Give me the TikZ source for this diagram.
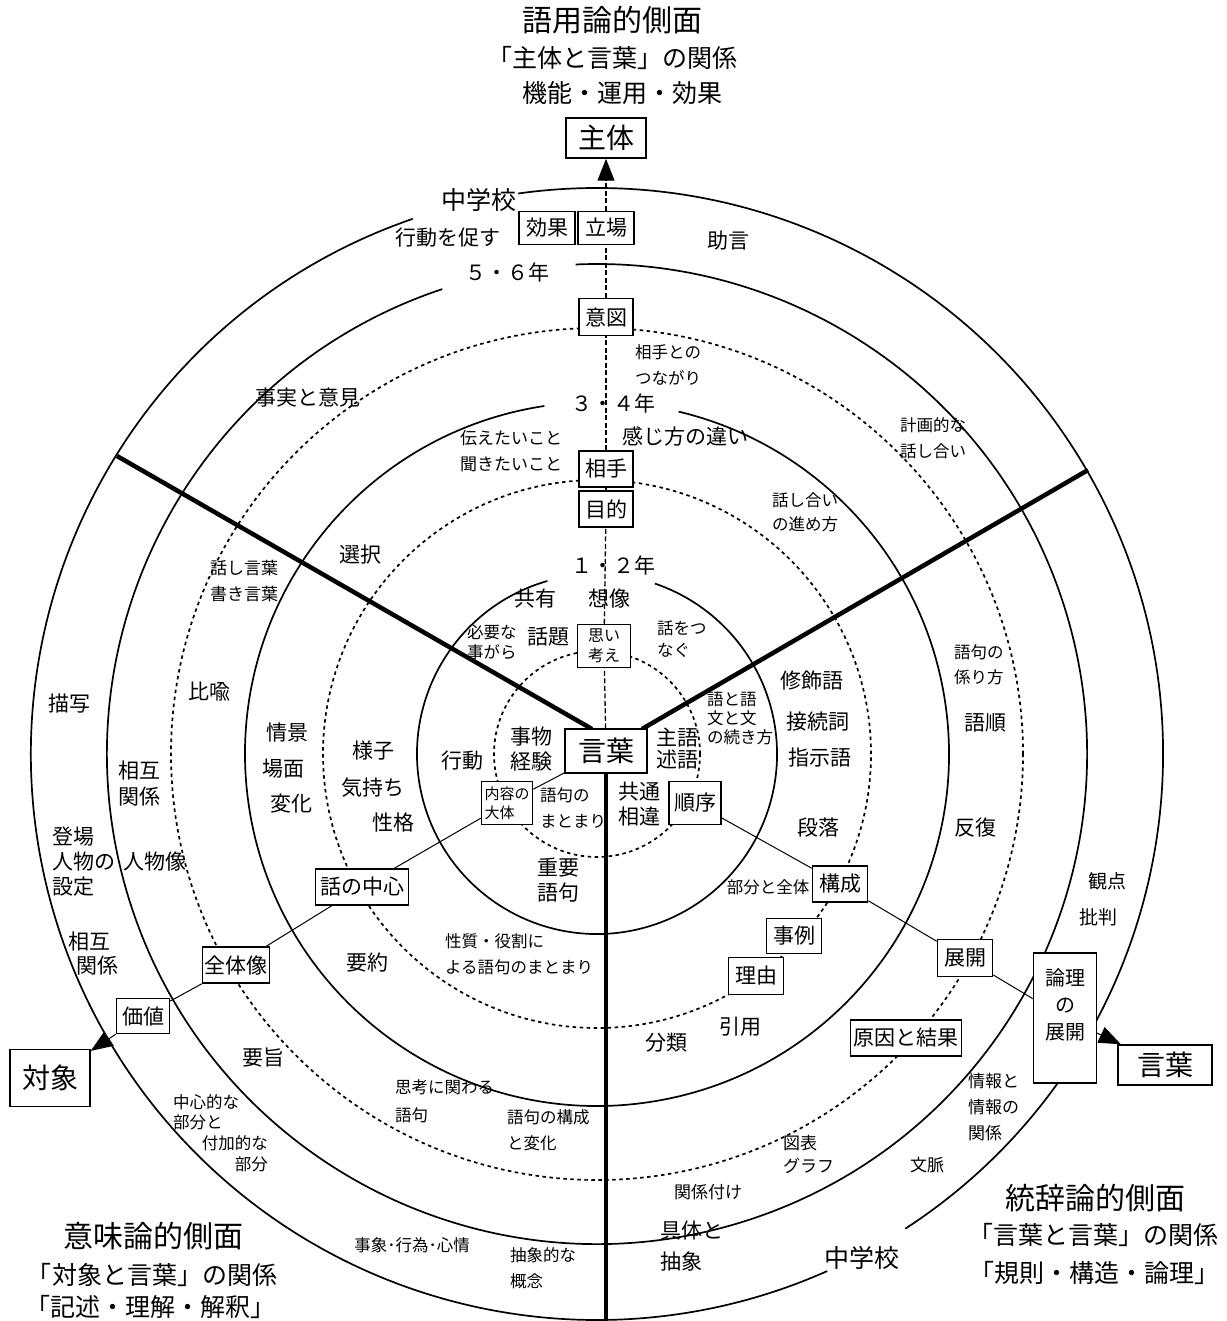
\documentclass[tikz,border=0pt]{standalone}
\usepackage{fontspec}
\setmainfont{Noto Sans CJK JP}
\usetikzlibrary{arrows.meta}
\begin{document}
\begin{tikzpicture}[x=1pt,y=1pt,
  every node/.style={inner sep=0pt},
  box/.style={draw,line width=1.5pt,fill=white,inner sep=0pt,align=center},
  ring/.style={line width=1.7pt},
  dotring/.style={line width=1.7pt,dash pattern=on 3.5pt off 3.5pt},
  sector/.style={line width=4.5pt},
  axisline/.style={line width=1pt},
  vaxis/.style={line width=1.3pt,dash pattern=on 5pt off 2.5pt},
  tip/.style={-{Triangle[length=22pt,width=17pt]}},
  f30/.style={font=\fontsize{30}{34}\selectfont},
  f28/.style={font=\fontsize{28}{32}\selectfont},
  f24/.style={font=\fontsize{25}{28}\selectfont},
  f23/.style={font=\fontsize{25}{36}\selectfont},
  f20/.style={font=\fontsize{21}{25}\selectfont},
  f18/.style={font=\fontsize{19}{27}\selectfont},
  f17/.style={font=\fontsize{17}{26}\selectfont},
  f16/.style={font=\fontsize{16.5}{26}\selectfont},
  f15/.style={font=\fontsize{15}{19}\selectfont},
]
\useasboundingbox (0,0) rectangle (1226,-1321);
\coordinate (O) at (597,-754);

% rings
\draw[ring] ([shift={(O)}]109:566) arc[start angle=109,end angle=294,radius=566];
\draw[ring] ([shift={(O)}]-57:566) arc[start angle=-57,end angle=98,radius=566];
\draw[ring] ([shift={(O)}]108.4:490) arc[start angle=108.4,end angle=452.5,radius=490];
\draw[dotring] (O) circle[radius=426];
\draw[ring] ([shift={(O)}]98.6:352) arc[start angle=98.6,end angle=436.6,radius=352];
\draw[dotring] (O) circle[radius=274];
\draw[ring] ([shift={(O)}]106:180) arc[start angle=106,end angle=431.2,radius=180];
\draw[dotring] (O) circle[radius=103];

% sector lines
\coordinate (ulA) at (592,-729);
\coordinate (ulB) at (117,-456);
\coordinate (urA) at (642,-729);
\coordinate (urB) at (1088,-470);
\coordinate (dB) at (606,-1321);
\draw[sector] (ulA) -- (ulB);
\draw[sector] (urA) -- (urB);

% boxes
\node[box,f28,minimum width=80,minimum height=40] (shutai) at (606,-138) {主体};
\node[box,f20,minimum width=56,minimum height=33] (koka) at (547,-228) {効果};
\node[box,f20,minimum width=56,minimum height=33] (tachiba) at (606,-228) {立場};
\node[box,f20,minimum width=54,minimum height=37] (ito) at (606,-317) {意図};
\node[box,f20,minimum width=54,minimum height=36] (aite) at (606,-469) {相手};
\node[box,f20,minimum width=54,minimum height=36] (mokuteki) at (606,-509) {目的};
\node[box,font=\fontsize{16}{20}\selectfont,minimum width=53,minimum height=43] (omoi) at (604,-646) {思い\\考え};
\node[box,f28,minimum width=82,minimum height=44] (gen) at (606,-751) {言葉};
\node[box,f15,align=left,minimum width=51,minimum height=43] (naiyo) at (507,-803) {内容の\\大体};
\node[box,f20,minimum width=52,minimum height=43] (junjo) at (695,-803) {順序};
\node[box,f20,minimum width=93,minimum height=36] (wadai) at (362,-887) {話の中心};
\node[box,f20,minimum width=67,minimum height=36] (zentai) at (236,-965) {全体像};
\node[box,f20,minimum width=53,minimum height=35] (kachi) at (143,-1016) {価値};
\node[box,f28,minimum width=80,minimum height=57] (taisho) at (50,-1078) {対象};
\node[box,f20,minimum width=55,minimum height=36] (kosei) at (840,-884) {構成};
\node[box,f20,minimum width=55,minimum height=35] (jirei) at (794,-936) {事例};
\node[box,f20,minimum width=55,minimum height=37] (riyu) at (756,-976) {理由};
\node[box,f20,minimum width=55,minimum height=37] (tenkai) at (965,-958) {展開};
\node[box,font=\fontsize{20}{27}\selectfont,minimum width=63,minimum height=130] (ronri) at (1065,-1018) {論理\\の\\展開\\ \mbox{}};
\node[box,f20,minimum width=111,minimum height=36] (genin) at (906,-1038) {原因と結果};
\node[box,f28,minimum width=94,minimum height=40] (kotoba2) at (1165,-1065) {言葉};

\draw[sector] (gen.south) -- (dB);

% axis connectors
\draw[vaxis] (gen) -- (omoi);
\draw[vaxis] (omoi) -- (mokuteki);
\draw[vaxis] (mokuteki) -- (aite);
\draw[vaxis] (aite) -- (ito);
\draw[vaxis] (ito) -- (tachiba);
\draw[vaxis,tip] (tachiba) -- (shutai);

\draw[axisline] (gen) -- (naiyo);
\draw[axisline] (naiyo) -- (wadai);
\draw[axisline] (wadai) -- (zentai);
\draw[axisline] (zentai) -- (kachi);
\draw[axisline,tip] (kachi) -- (taisho);

\draw[axisline] (junjo) -- (kosei);
\draw[axisline] (kosei) -- (tenkai);
\draw[axisline] (tenkai) -- (ronri);
\draw[axisline,tip] (ronri) -- (kotoba2);

% titles
\node[f30] (tA1) at (612,-20) {語用論的側面};
\node[f23] (tA2) at (612,-58) {「主体と言葉」の関係};
\node[f23] (tA3) at (622,-93) {機能・運用・効果};
\node[f30] (tB1) at (153,-1236) {意味論的側面};
\node[f23] (tB2) at (152,-1275) {「対象と言葉」の関係};
\node[f23] (tB3) at (150,-1307) {「記述・理解・解釈」};
\node[f30] (tC1) at (1095,-1198) {統辞論的側面};
\node[f23] (tC2) at (1093,-1235) {「言葉と言葉」の関係};
\node[f23] (tC3) at (1094,-1273) {「規則・構造・論理」};

% ring labels
\node[f24] (r1) at (479,-200) {中学校};
\node[f20] (r2) at (448,-238) {行動を促す};
\node[f20] (r3) at (507,-272) {５・６年};
\node[f20] (r4) at (613,-403) {３・４年};
\node[f20] (r5) at (613,-565) {１・２年};
\node[f24] (r6) at (862,-1258) {中学校};

% contents
\node[f20] (c1) at (728,-241) {助言};
\node[f20] (c2) at (308,-398) {事実と意見};
\node[f17,align=left,anchor=west] (c3) at (460,-451) {伝えたいこと\\聞きたいこと};
\node[f20] (c4) at (685,-436) {感じ方の違い};
\node[f16,align=left,anchor=west] (c5) at (635,-365) {相手との\\つながり};
\node[f16,align=left,anchor=west] (c6) at (900,-438) {計画的な\\話し合い};
\node[font=\fontsize{16.5}{24}\selectfont,align=left,anchor=west] (c7) at (772,-512) {話し合い\\の進め方};
\node[f20] (c8) at (360,-555) {選択};
\node[f17,align=left,anchor=west] (c9) at (210,-581) {話し言葉\\書き言葉};
\node[f20] (c10) at (209,-692) {比喩};
\node[f20] (c11) at (69,-704) {描写};
\node[font=\fontsize{21}{26}\selectfont,align=left,anchor=west] (c12) at (118,-784) {相互\\関係};
\node[f20,align=left,anchor=west] (c13) at (52,-862) {登場\\人物の\\設定};
\node[f20] (c14) at (155,-862) {人物像};
\node[f20] (c15) at (287,-733) {情景};
\node[f20] (c16) at (283,-769) {場面};
\node[f20] (c17) at (291,-804) {変化};
\node[f20] (c18) at (373,-751) {様子};
\node[f20] (c19) at (373,-788) {気持ち};
\node[f20] (c20) at (393,-823) {性格};
\node[f20] (c21) at (535,-599) {共有};
\node[f20] (c22) at (609,-599) {想像};
\node[font=\fontsize{16.5}{20}\selectfont,align=left,anchor=west] (c23) at (467,-642) {必要な\\事がら};
\node[f20] (c24) at (548,-637) {話題};
\node[font=\fontsize{16.5}{22}\selectfont,align=left,anchor=west] (c25) at (657,-639) {話をつ\\なぐ};
\node[f20] (c26) at (812,-681) {修飾語};
\node[f20] (c27) at (818,-722) {接続詞};
\node[f20] (c28) at (820,-758) {指示語};
\node[f20] (c29) at (818,-828) {段落};
\node[font=\fontsize{16.5}{19}\selectfont,align=left,anchor=west] (c30) at (707,-719) {語と語\\文と文\\の続き方};
\node[font=\fontsize{21}{22}\selectfont,align=center] (c31) at (677,-749) {主語\\述語};
\node[f20,align=center] (c32) at (531,-749) {事物\\経験};
\node[f20] (c33) at (462,-761) {行動};
\node[f16,align=left,anchor=west] (c34) at (540,-808) {語句の\\まとまり};
\node[f20,align=center] (c35) at (639,-804) {共通\\相違};
\node[f20,align=center] (c36) at (558,-880) {重要\\語句};
\node[f16] (c37) at (768,-887) {部分と全体};
\node[f16,align=left,anchor=west] (c38) at (445,-954) {性質・役割に\\よる語句のまとまり};
\node[f20] (c39) at (367,-963) {要約};
\node[f20] (c40) at (740,-1027) {引用};
\node[f20] (c41) at (666,-1043) {分類};
\node[f20] (c42) at (263,-1058) {要旨};
\node[font=\fontsize{16.5}{28}\selectfont,align=left,anchor=west] (c43) at (395,-1101) {思考に関わる\\語句};
\node[f16,align=left,anchor=west] (c44) at (507,-1130) {語句の構成\\と変化};
\node[f16,anchor=west] (c45) at (173,-1102) {中心的な};
\node[f16,anchor=west] (c46) at (173,-1122) {部分と};
\node[f16,anchor=east] (c47) at (268,-1143) {付加的な};
\node[f16,anchor=east] (c48) at (268,-1164) {部分};
\node[f16] (c49) at (412,-1245) {事象･行為･心情};
\node[f16,align=left,anchor=west] (c50) at (510,-1268) {抽象的な\\概念};
\node[font=\fontsize{21}{31}\selectfont,align=left,anchor=west] (c51) at (660,-1246) {具体と\\抽象};
\node[f17] (c52) at (708,-1192) {関係付け};
\node[font=\fontsize{17}{23}\selectfont,align=left,anchor=west] (c53) at (783,-1154) {図表\\グラフ};
\node[f17,align=left,anchor=west] (c54) at (968,-1107) {情報と\\情報の\\関係};
\node[f17] (c55) at (927,-1165) {文脈};
\node[f18] (c56) at (1107,-881) {観点};
\node[f18] (c57) at (1098,-917) {批判};
\node[font=\fontsize{16.5}{25}\selectfont,align=left,anchor=west] (c58) at (954,-665) {語句の\\係り方};
\node[f20] (c59) at (985,-723) {語順};
\node[f20] (c60) at (975,-828) {反復};
\node[f20] (c61) at (89,-941) {相互};
\node[f20] (c62) at (97,-966) {関係};
\end{tikzpicture}
\end{document}
